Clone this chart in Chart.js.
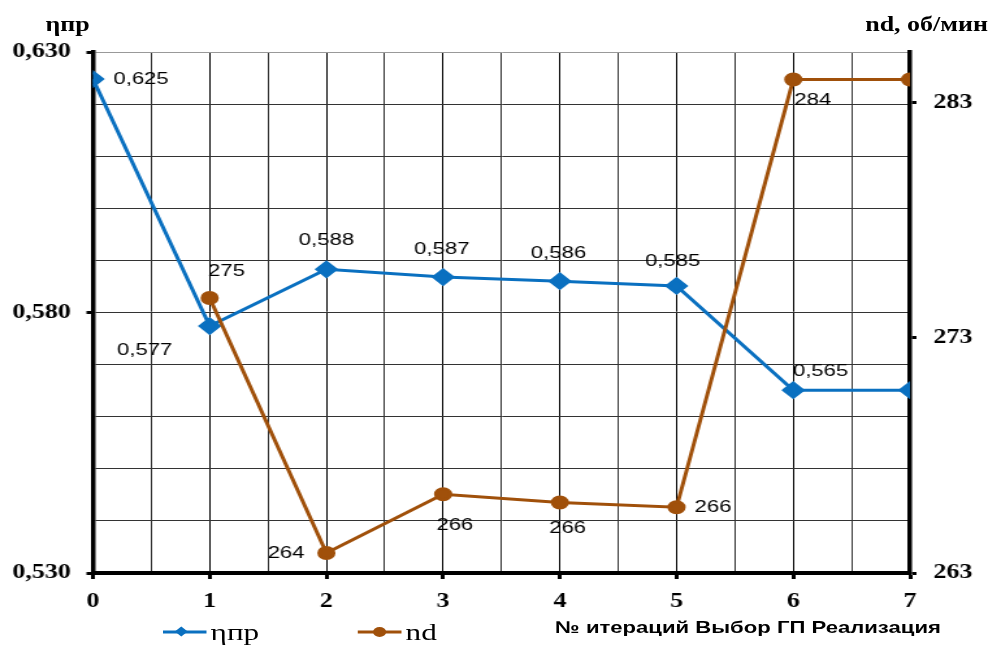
<!DOCTYPE html>
<html>
<head>
<meta charset="utf-8">
<script src="https://cdn.jsdelivr.net/npm/chart.js@4/dist/chart.umd.min.js"></script>
<style>
  html, body { margin: 0; padding: 0; background: #fff; }
  body { width: 992px; height: 646px; overflow: hidden; }
  /* the reference is stretched horizontally, so draw narrow and stretch */
  #wrap { position: absolute; left: 0; top: 0; width: 763px; height: 646px;
          transform: scaleX(1.3); transform-origin: 0 0; }
  #box  { position: absolute; left: 0; top: 0; width: 763px; height: 646px; }
  .ttl  { position: absolute; font-family: 'Liberation Serif', serif; font-weight: bold;
          font-size: 20px; color: #000; white-space: nowrap; line-height: 1; }
  .xt   { position: absolute; font-family: 'Liberation Sans', Arial, sans-serif; font-weight: bold;
          font-size: 17px; color: #000; white-space: nowrap; line-height: 1; }
  .lg   { position: absolute; font-family: 'Liberation Serif', serif; font-size: 24px;
          color: #000; white-space: nowrap; line-height: 1; display: flex; align-items: center; }
  .lg svg { margin-right: 3px; }
</style>
</head>
<body>
<div id="wrap">
  <div id="box"><canvas id="chart"></canvas></div>
  <div class="ttl" id="t-eta" style="left:35px; top:14px;">ηпр</div>
  <div class="ttl" id="t-nd" style="right:3px; top:14px;">nd, об/мин</div>
  <div class="xt" style="left:427px; top:619px;">№ итераций Выбор ГП Реализация</div>
  <div class="lg" style="left:125px; top:620px;">
    <svg width="34" height="14"><line x1="0" y1="7" x2="34" y2="7" stroke="#0a70c0" stroke-width="3"/>
      <rect x="12" y="2" width="7" height="7" fill="#0a70c0" transform="rotate(45 15.5 5.5) translate(0 1.5)"/></svg>ηпр
  </div>
  <div class="lg" style="left:275px; top:620px;">
    <svg width="34" height="14"><line x1="0" y1="7" x2="34" y2="7" stroke="#a0500a" stroke-width="3"/>
      <circle cx="17" cy="7" r="5" fill="#a0500a"/></svg>nd
  </div>
</div>
<script>
'use strict';

// ── DATA ─────────────────────────────────────────────────────────────────────
const ITER      = [0, 1, 2, 3, 4, 5, 6, 7];
const ETA       = [0.6248, 0.5774, 0.5883, 0.5868, 0.5860, 0.5851, 0.5651, 0.5651];
const ND        = [null, 274.7, 263.85, 266.35, 266.0, 265.8, 284.0, 284.0];
const ETA_LBL   = ['0,625', '0,577', '0,588', '0,587', '0,586', '0,585', '0,565', ''];
const ND_LBL    = ['', '275', '264', '266', '266', '266', '284', ''];
const ETA_TICKS = [0.53, 0.58, 0.63];
const ND_TICKS  = [263, 273, 283];

// label offsets from the point (canvas px, before the horizontal stretch)
const ETA_OFF = [[37, 0], [-50, 24], [0, -29], [-1, -28], [-1, -28], [-3, -25], [21, -19], [0, 0]];
const ND_OFF  = [[0, 0], [13, -27], [-31, 0], [9, 31], [6, 26], [28, 0], [15, 21], [0, 0]];

const BLUE  = '#0a70c0';
const BROWN = '#a0500a';

const tickFont = { family: 'Liberation Serif', weight: 'bold', size: 20 };
const isInt = v => Math.abs(v - Math.round(v)) < 1e-6;

// ── POINT LABELS ─────────────────────────────────────────────────────────────
const pointLabels = {
  id: 'pointLabels',
  afterDatasetsDraw(chart) {
    const ctx = chart.ctx;
    ctx.save();
    ctx.font = '17px "Liberation Sans", Arial, sans-serif';
    ctx.fillStyle = '#000';
    ctx.textAlign = 'center';
    ctx.textBaseline = 'middle';
    [[0, ETA_LBL, ETA_OFF], [1, ND_LBL, ND_OFF]].forEach(([di, lbls, offs]) => {
      chart.getDatasetMeta(di).data.forEach((pt, i) => {
        if (!lbls[i] || pt.skip) return;
        ctx.fillText(lbls[i], pt.x + offs[i][0], pt.y + offs[i][1]);
      });
    });
    ctx.restore();
  },
};

// ── CHART ────────────────────────────────────────────────────────────────────
new Chart(document.getElementById('chart'), {
  type: 'line',
  data: {
    datasets: [
      {
        label: 'ηпр',
        data: ITER.map((x, i) => ({ x, y: ETA[i] })),
        borderColor: BLUE,
        backgroundColor: BLUE,
        borderWidth: 3,
        pointStyle: 'rectRot',
        pointRadius: 7,
        yAxisID: 'y',
        order: 1,
      },
      {
        label: 'nd',
        data: ITER.map((x, i) => ({ x, y: ND[i] })),
        borderColor: BROWN,
        backgroundColor: BROWN,
        borderWidth: 3,
        pointStyle: 'circle',
        pointRadius: 5.5,
        yAxisID: 'y2',
        order: 0,
      },
    ],
  },
  options: {
    responsive: true,
    maintainAspectRatio: false,
    animation: false,
    layout: { padding: { top: 52, left: 0, right: 0, bottom: 0 } },
    plugins: { legend: { display: false }, tooltip: { enabled: false } },
    scales: {
      x: {
        type: 'linear',
        min: 0,
        max: 7,
        ticks: {
          stepSize: 0.5,
          autoSkip: false,
          maxRotation: 0,
          padding: 11,
          color: '#000',
          font: tickFont,
          callback: v => (isInt(v) ? String(v) : ''),
        },
        grid: {
          color: c => (isInt(c.tick.value) ? '#000' : '#333'),
          lineWidth: 1,
          tickLength: 6,
          tickWidth: 3,
          tickColor: c => (isInt(c.tick.value) ? '#000' : 'rgba(0,0,0,0)'),
        },
        border: { color: '#000', width: 4 },
        afterFit: s => { s.height = 73; },
      },
      y: {
        position: 'left',
        min: 0.53,
        max: 0.63,
        ticks: {
          stepSize: 0.01,
          padding: 12,
          color: '#000',
          font: tickFont,
          callback: v => (ETA_TICKS.some(t => Math.abs(t - v) < 1e-6) ? v.toFixed(3).replace('.', ',') : ''),
        },
        grid: {
          color: c => (Math.abs(c.tick.value - 0.63) < 1e-6 ? '#999' : '#333'),
          lineWidth: 1,
          tickLength: 5,
          tickWidth: 3,
          tickColor: c => (ETA_TICKS.some(t => Math.abs(t - c.tick.value) < 1e-6) ? '#000' : 'rgba(0,0,0,0)'),
        },
        border: { color: '#000', width: 3.5 },
        afterFit: s => { s.width = 71.5; },
      },
      y2: {
        position: 'right',
        min: 263,
        max: 285.17,
        afterBuildTicks: s => { s.ticks = ND_TICKS.map(v => ({ value: v })); },
        ticks: { padding: 13, color: '#000', font: tickFont },
        grid: { drawOnChartArea: false, tickLength: 5, tickWidth: 3, tickColor: '#000' },
        border: { color: '#000', width: 3.5 },
        afterFit: s => { s.width = 63; },
      },
    },
  },
  plugins: [pointLabels],
});
</script>
</body>
</html>
